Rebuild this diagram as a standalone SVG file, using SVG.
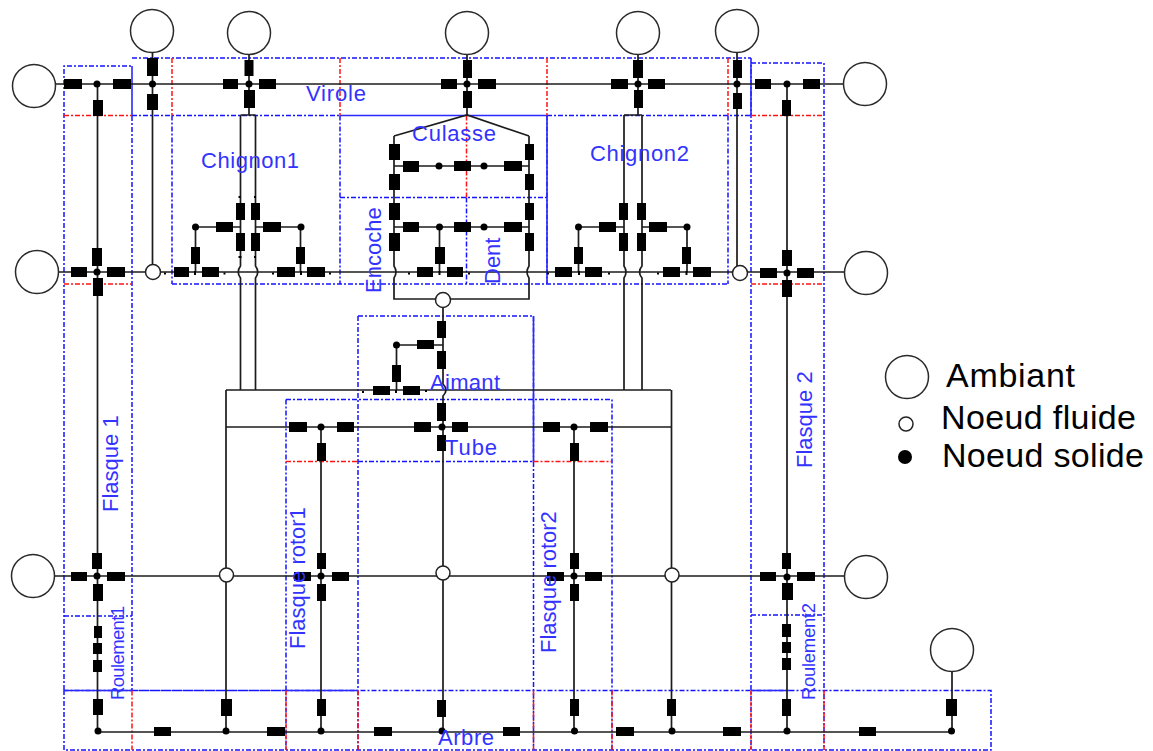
<svg xmlns="http://www.w3.org/2000/svg" width="1153" height="751" viewBox="0 0 1153 751">
<defs><style>
.w{fill:none;stroke:#1c1c1c;stroke-width:1.7}
.r rect{fill:#000}
.amb{fill:#fff;stroke:#2a2a2a;stroke-width:1.5}
.flu{fill:#fff;stroke:#222;stroke-width:1.5}
.sol{fill:#000}
.dot{fill:#000}
.b{fill:none;stroke:#1414ff;stroke-width:1.5;stroke-dasharray:5 2 2 2}
.bs{fill:none;stroke:#2a2aff;stroke-width:1.6}
.rd{fill:none;stroke:#ff1414;stroke-width:1.5;stroke-dasharray:5 2 2 2}
text{font-family:"Liberation Sans",Arial,sans-serif}
.l{fill:#3333ff;font-size:22px}
.s{fill:#3333ff;font-size:18.5px}
.k{fill:#000;font-size:34px}
</style></defs>
<rect width="1153" height="751" fill="#fff"/>
<g id="zones">
<path class="b" d="M64 690V66H132M132 58H751M132 116V690M172 115.5V284M340 115.5V284M547 115.5V284M728 115.5V284M172 284H728M340 197.5H547M466.5 197.5V284M64 616H132M751 63H824V750M751 58V750M751 615H824M132 115.5H340M547 115.5H751M358 316H533.5V462M358 316V750M533.5 462V750M286 399.5H612V750M286 399.5V750M358 461.500H533.5M64 690V750H991V690.5H64M132 690.5H286"/>
<path class="bs" d="M132 66V115.5M340 115.5H547M751 63V115.5M64 690.5H132M286 690.5H358M751 690.5H790M547 115.5V284M533.5 316V462"/>
<path class="rd" d="M64 115.5H132M751 115.5H824M64 284H132M751 284H824M172 58V115.5M340 58V115.5M547 58V115.5M728 58V115.5M466.5 115.5V197.5M286 461.5H358M533.5 461.5H612M132 690.5V750M286 690.5V750M358 690.5V750M533.5 690.5V750M612 690.5V750M751 690.5V750M824 690.5V750"/>
</g>
<g id="connectors">
<path class="w" d="M55 84H843M58 272H845M55 576H845M98 732H952M97.5 84V732M787 84V732M152.5 52V272M249 54V115M467 54V115M638 54V115M737 52V272M952 672V732M321 427V732M574 427V732"/>
<path class="w" d="M240.5 115H255.5M240.5 115V266Q236 272 240.5 278V390M255.5 115V266Q260 272 255.5 278V390M624 115H642M624 115V266Q628 272 624 278V390M642 115V266Q637 272 642 278V390"/>
<path class="w" d="M394 136L467 115L529 136M394 136V266Q398 272 394 278V299H529V278Q525 272 529 266V136M394 166H529M394 227H529M439.5 227V272"/>
<path class="w" d="M195.5 227H240M255.5 227H301M195.5 227V272M300.5 227V272M578.5 227H624M642 227H687M578.5 227V272M687 227V272"/>
<path class="w" d="M443 300V384Q449 390 443 396V732M396 345H443M396.5 345V390M226 390H671M226 427H671M226 390V732M671.5 390V732"/>
</g>
<g id="resistors" class="r">
<g id="r-top-row">
<rect x="64" y="79" width="18" height="10"/><rect x="113" y="79" width="18" height="10"/><rect x="93" y="100" width="10" height="16"/>
<rect x="147" y="58" width="11" height="18"/><rect x="147" y="94" width="11" height="16"/>
<rect x="244.500" y="60" width="9" height="16"/><rect x="223" y="79" width="15" height="10"/><rect x="259" y="79" width="17" height="10"/><rect x="244" y="90" width="11" height="18"/>
<rect x="463" y="60" width="9" height="18"/><rect x="441" y="79" width="16" height="10"/><rect x="478" y="79" width="18" height="10"/><rect x="463" y="91" width="9" height="17"/>
<rect x="633" y="60" width="10" height="18"/><rect x="611" y="79" width="17" height="10"/><rect x="648" y="79" width="17" height="10"/><rect x="634" y="90" width="9" height="18"/>
<rect x="733" y="60" width="9" height="18"/><rect x="733" y="93" width="9" height="16"/>
<rect x="755" y="79" width="16" height="10"/><rect x="803" y="79" width="17" height="10"/><rect x="782" y="100" width="9" height="16"/>
</g>
<g id="r-flasques-272">
<rect x="71" y="267" width="16" height="10"/><rect x="107" y="267" width="18" height="10"/><rect x="92" y="248" width="10" height="18"/><rect x="93" y="278" width="10" height="18"/>
<rect x="760" y="268" width="17" height="10"/><rect x="797" y="268" width="17" height="10"/><rect x="782" y="250" width="10" height="16"/><rect x="782" y="280" width="10" height="17"/>
</g>
<g id="r-chignon1">
<rect x="174" y="267" width="15" height="10"/><rect x="202" y="267" width="17" height="10"/><rect x="277" y="267" width="18" height="10"/><rect x="307" y="267" width="18" height="10"/>
<rect x="191" y="247" width="9" height="17"/><rect x="296" y="247" width="9" height="17"/><rect x="216" y="222" width="17" height="10"/><rect x="263" y="222" width="18" height="10"/>
<rect x="236" y="203" width="9" height="17"/><rect x="236" y="233" width="9" height="18"/><rect x="251" y="203" width="9" height="17"/><rect x="251" y="233" width="9" height="18"/>
</g>
<g id="r-chignon2">
<rect x="555" y="267" width="17" height="10"/><rect x="585" y="267" width="17" height="10"/><rect x="663" y="267" width="17" height="10"/><rect x="693" y="267" width="18" height="10"/>
<rect x="574" y="247" width="9" height="17"/><rect x="682" y="247" width="9" height="17"/><rect x="599" y="222" width="17" height="10"/><rect x="649" y="222" width="18" height="10"/>
<rect x="619" y="203" width="9" height="17"/><rect x="619" y="233" width="9" height="18"/><rect x="637" y="203" width="9" height="17"/><rect x="637" y="233" width="9" height="18"/>
</g>
<g id="r-culasse-dent">
<rect x="389" y="144" width="11" height="16"/><rect x="389" y="174" width="11" height="16"/><rect x="389" y="203" width="11" height="17"/><rect x="389" y="233" width="11" height="18"/>
<rect x="525" y="144" width="9" height="16"/><rect x="525" y="174" width="9" height="16"/><rect x="525" y="203" width="9" height="17"/><rect x="525" y="233" width="9" height="18"/>
<rect x="403" y="161" width="16" height="11"/><rect x="454" y="161" width="17" height="10"/><rect x="504" y="161" width="18" height="10"/>
<rect x="403" y="222" width="16" height="10"/><rect x="454" y="222" width="17" height="10"/><rect x="504" y="222" width="18" height="10"/>
<rect x="435" y="247" width="10" height="17"/><rect x="417" y="267" width="16" height="10"/><rect x="447" y="267" width="16" height="10"/>
</g>
<g id="r-aimant-tube">
<rect x="437" y="321" width="9" height="17"/><rect x="437" y="351" width="9" height="18"/><rect x="417" y="340" width="17" height="9"/><rect x="392" y="365" width="9" height="17"/>
<rect x="373" y="386" width="17" height="9"/><rect x="403" y="386" width="17" height="9"/><rect x="437" y="403" width="9" height="18"/>
<rect x="414" y="422" width="17" height="10"/><rect x="452" y="422" width="16" height="10"/><rect x="437" y="435" width="9" height="16"/>
<rect x="289" y="422" width="18" height="10"/><rect x="337" y="422" width="17" height="10"/><rect x="317" y="443" width="9" height="18"/>
<rect x="543" y="422" width="17" height="10"/><rect x="590" y="422" width="18" height="10"/><rect x="570" y="443" width="9" height="18"/>
</g>
<g id="r-row-576">
<rect x="71" y="572" width="16" height="9"/><rect x="107" y="572" width="18" height="9"/><rect x="92" y="553" width="10" height="16"/><rect x="93" y="584" width="10" height="17"/>
<rect x="294" y="572" width="17" height="9"/><rect x="332" y="572" width="17" height="9"/><rect x="317" y="553" width="9" height="16"/><rect x="317" y="584" width="9" height="17"/>
<rect x="547" y="572" width="17" height="9"/><rect x="585" y="572" width="17" height="9"/><rect x="570" y="553" width="9" height="16"/><rect x="570" y="584" width="9" height="17"/>
<rect x="760" y="572" width="16" height="9"/><rect x="797" y="572" width="18" height="9"/><rect x="782" y="553" width="9" height="16"/><rect x="782" y="583" width="11" height="17"/>
</g>
<g id="r-roulements">
<rect x="94" y="626" width="8" height="12"/><rect x="93" y="643" width="9" height="11"/><rect x="93" y="660" width="9" height="12"/>
<rect x="782" y="624" width="9" height="13"/><rect x="782" y="642" width="9" height="11"/><rect x="782" y="658" width="9" height="12"/>
</g>
<g id="r-arbre">
<rect x="93" y="699" width="10" height="16"/><rect x="221" y="699" width="11" height="17"/><rect x="317" y="699" width="9" height="17"/><rect x="437" y="700" width="9" height="17"/><rect x="570" y="699" width="9" height="17"/><rect x="667" y="699" width="9" height="17"/><rect x="782" y="699" width="9" height="17"/><rect x="946" y="699" width="11" height="17"/>
<rect x="154" y="727" width="17" height="9"/><rect x="267" y="727" width="18" height="9"/><rect x="374" y="727" width="18" height="9"/><rect x="503" y="727" width="17" height="9"/><rect x="616" y="727" width="18" height="9"/><rect x="723" y="727" width="18" height="9"/><rect x="859" y="727" width="17" height="9"/>
</g>
</g>
<g id="ambient-nodes">
<g id="amb-1"><circle class="amb" cx="152" cy="31" r="21.5"/></g>
<g id="amb-2"><circle class="amb" cx="249" cy="33" r="21.500"/></g>
<g id="amb-3"><circle class="amb" cx="467" cy="33" r="21.500"/></g>
<g id="amb-4"><circle class="amb" cx="638" cy="33" r="21.500"/></g>
<g id="amb-5"><circle class="amb" cx="737" cy="31" r="21.500"/></g>
<g id="amb-6"><circle class="amb" cx="34" cy="86" r="21.500"/></g>
<g id="amb-7"><circle class="amb" cx="865" cy="84" r="21.500"/></g>
<g id="amb-8"><circle class="amb" cx="37" cy="272" r="21.500"/></g>
<g id="amb-9"><circle class="amb" cx="866" cy="273" r="21.500"/></g>
<g id="amb-10"><circle class="amb" cx="33" cy="576" r="21.500"/></g>
<g id="amb-11"><circle class="amb" cx="866" cy="577" r="21.500"/></g>
<g id="amb-12"><circle class="amb" cx="952" cy="650" r="21.500"/></g>
</g>
<g id="fluid-nodes">
<g id="f-1"><circle class="flu" cx="153" cy="272" r="7.500"/></g>
<g id="f-2"><circle class="flu" cx="740" cy="273" r="7.500"/></g>
<g id="f-3"><circle class="flu" cx="443" cy="300" r="7.500"/></g>
<g id="f-4"><circle class="flu" cx="226.500" cy="575" r="7"/></g>
<g id="f-5"><circle class="flu" cx="443" cy="573" r="7"/></g>
<g id="f-6"><circle class="flu" cx="672" cy="575" r="7"/></g>
</g>
<g id="solid-nodes">
<g id="s-1"><circle class="sol" cx="97" cy="84" r="3.500"/></g>
<g id="s-2"><circle class="sol" cx="152.500" cy="84" r="3.500"/></g>
<g id="s-3"><circle class="sol" cx="249" cy="84" r="3.500"/></g>
<g id="s-4"><circle class="sol" cx="467" cy="84" r="3.500"/></g>
<g id="s-5"><circle class="sol" cx="638" cy="84" r="3.500"/></g>
<g id="s-6"><circle class="sol" cx="737" cy="84" r="3.500"/></g>
<g id="s-7"><circle class="sol" cx="787" cy="84" r="3.500"/></g>
<g id="s-8"><circle class="sol" cx="97" cy="272" r="3.500"/></g>
<g id="s-9"><circle class="sol" cx="787" cy="273" r="3.500"/></g>
<g id="s-10"><circle class="sol" cx="195.500" cy="227" r="3.500"/></g>
<g id="s-11"><circle class="sol" cx="301" cy="227" r="3.500"/></g>
<g id="s-12"><circle class="sol" cx="578.500" cy="227" r="3.500"/></g>
<g id="s-13"><circle class="sol" cx="687" cy="227" r="3.500"/></g>
<g id="s-14"><circle class="sol" cx="439" cy="166" r="3.500"/></g>
<g id="s-15"><circle class="sol" cx="484" cy="166" r="3.500"/></g>
<g id="s-16"><circle class="sol" cx="439.500" cy="227" r="3.500"/></g>
<g id="s-17"><circle class="sol" cx="484" cy="227" r="3.500"/></g>
<g id="s-18"><circle class="sol" cx="396.500" cy="345" r="3.500"/></g>
<g id="s-19"><circle class="sol" cx="321" cy="427" r="3.500"/></g>
<g id="s-20"><circle class="sol" cx="442" cy="427" r="3.500"/></g>
<g id="s-21"><circle class="sol" cx="574" cy="427" r="3.500"/></g>
<g id="s-22"><circle class="sol" cx="97" cy="576" r="3.500"/></g>
<g id="s-23"><circle class="sol" cx="321" cy="576" r="3.500"/></g>
<g id="s-24"><circle class="sol" cx="574" cy="576" r="3.500"/></g>
<g id="s-25"><circle class="sol" cx="787" cy="577" r="3.500"/></g>
<g id="s-26"><circle class="sol" cx="98" cy="731" r="3.500"/></g>
<g id="s-27"><circle class="sol" cx="226" cy="731" r="3.500"/></g>
<g id="s-28"><circle class="sol" cx="321" cy="731" r="3.500"/></g>
<g id="s-29"><circle class="sol" cx="442" cy="731" r="3.500"/></g>
<g id="s-30"><circle class="sol" cx="574.500" cy="731" r="3.500"/></g>
<g id="s-31"><circle class="sol" cx="672" cy="731" r="3.500"/></g>
<g id="s-32"><circle class="sol" cx="787" cy="731" r="3.500"/></g>
<g id="s-33"><circle class="sol" cx="951.500" cy="731" r="3.500"/></g>
</g>
<g id="minor-dots">
<path class="dot" d="M164 272.500h2v2h-2zM194 271h2v4h-2zM223.500 272.500h2v2h-2zM272 272.500h2v2h-2zM300 271h2v4h-2zM329 272.500h2v2h-2zM238.500 196h2v2h-2zM254 196h2v2h-2zM238.500 256h3v2h-3zM254 256h2v2h-2zM408 272.500h2v2h-2zM438.500 271h2v4h-2zM468 272.500h2v2h-2zM547 272.500h2v2h-2zM578 271h2v4h-2zM608 272.500h2v2h-2zM657 272.500h2v2h-2zM685.500 271h2v4h-2zM362 391h2v2h-2zM395 390h2v3h-2zM425 390h2v2h-2z"/>
</g>
<g id="labels">
<text class="l" x="306" y="101" textLength="60">Virole</text>
<text class="l" x="201" y="168" textLength="98">Chignon1</text>
<text class="l" x="412" y="141" textLength="84">Culasse</text>
<text class="l" x="590" y="161" textLength="99">Chignon2</text>
<text class="l" transform="translate(381 293) rotate(-90)">Encoche</text>
<text class="l" transform="translate(500 284) rotate(-90)">Dent</text>
<text class="l" x="430" y="390" textLength="70">Aimant</text>
<text class="l" x="445" y="455" textLength="52">Tube</text>
<text class="l" transform="translate(118 512) rotate(-90)">Flasque 1</text>
<text class="l" transform="translate(812 468) rotate(-90)">Flasque 2</text>
<text class="l" transform="translate(305 649) rotate(-90)">Flasque rotor1</text>
<text class="l" transform="translate(556 653) rotate(-90)">Flasque rotor2</text>
<text class="s" transform="translate(124 700) rotate(-90)" textLength="94">Roulement1</text>
<text class="s" transform="translate(815 700) rotate(-90)" textLength="97">Roulement2</text>
<text class="l" x="438" y="745" textLength="56">Arbre</text>
</g>
<g id="legend">
<g id="legend-ambiant"><circle class="amb" cx="907" cy="377" r="21.500"/><text class="k" x="946" y="387" textLength="129">Ambiant</text></g>
<g id="legend-fluide"><circle class="flu" cx="906" cy="424" r="7"/><text class="k" x="941" y="429" textLength="195">Noeud fluide</text></g>
<g id="legend-solide"><circle class="sol" cx="905" cy="457" r="7"/><text class="k" x="942" y="467" textLength="202">Noeud solide</text></g>
</g>
</svg>
